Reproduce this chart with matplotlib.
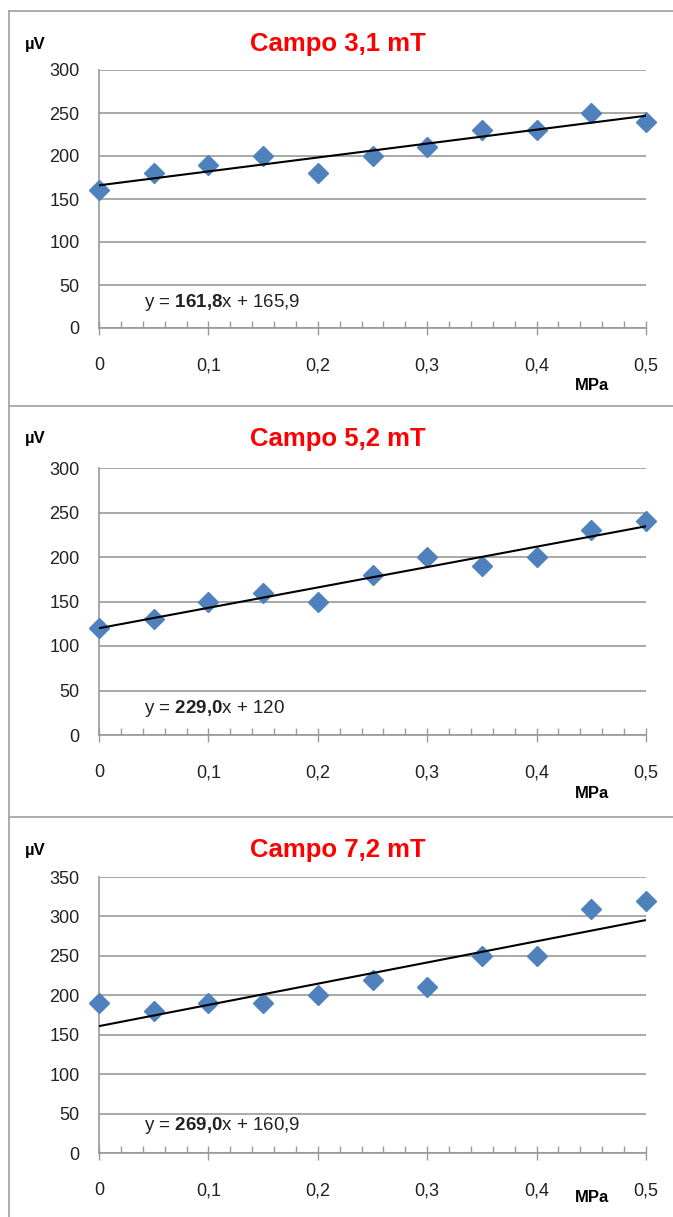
import numpy as np
import matplotlib.pyplot as plt
from matplotlib.ticker import MultipleLocator, FuncFormatter
from matplotlib.lines import Line2D

plt.rcParams['font.family'] = ['Liberation Sans', 'DejaVu Sans']
plt.rcParams['mathtext.fontset'] = 'custom'
plt.rcParams['mathtext.rm'] = 'Liberation Sans'
plt.rcParams['mathtext.bf'] = 'Liberation Sans:bold'

# dati
pressione = [0, 0.05, 0.1, 0.15, 0.2, 0.25, 0.3, 0.35, 0.4, 0.45, 0.5]
v_31 = [160, 180, 190, 200, 180, 200, 210, 230, 230, 250, 240]
v_52 = [120, 130, 150, 160, 150, 180, 200, 190, 200, 230, 240]
v_72 = [190, 180, 190, 190, 200, 220, 210, 250, 250, 310, 320]
titoli = ["Campo 3,1 mT", "Campo 5,2 mT", "Campo 7,2 mT"]
pendenze = [161.8, 229.0, 269.0]
intercette = [165.9, 120.0, 160.9]
eq_pend = ["161,8", "229,0", "269,0"]
eq_int = ["165,9", "120", "160,9"]
ymax = [300, 300, 350]

W, H = 673, 1217
fig = plt.figure(figsize=(W/100, H/100), dpi=100)

# posizioni in pixel: (top, bottom) dell'area dati
aree = [(70, 328), (468, 735), (877, 1153)]
bordi = [11, 406, 817]
mpa_y = [385, 793, 1197]

grigio = '#999999'

# bordi dei pannelli
for i, b in enumerate(bordi):
    fig.add_artist(Line2D([9/W, 1], [1-b/H, 1-b/H], color='#a6a6a6', lw=1.3))
fig.add_artist(Line2D([9/W, 9/W], [0, 1-11/H], color='#a6a6a6', lw=1.3))

serie = [v_31, v_52, v_72]
for i in range(3):
    top, bot = aree[i]
    ax = fig.add_axes([99/W, 1-bot/H, (646-99)/W, (bot-top)/H])
    x = np.array(pressione)
    ax.plot(x, serie[i], ls='none', marker='D', ms=10, color='#4F81BD', zorder=3, clip_on=False)
    xl = np.array([0, 0.5])
    ax.plot(xl, pendenze[i]*xl + intercette[i], color='black', lw=1.5, zorder=4)
    ax.set_xlim(0, 0.5)
    ax.set_ylim(0, ymax[i])
    ax.yaxis.set_major_locator(MultipleLocator(50))
    ax.grid(axis='y', color=grigio, lw=1.2)
    ax.set_axisbelow(True)
    for s in ['top', 'right']:
        ax.spines[s].set_visible(False)
    for s in ['left', 'bottom']:
        ax.spines[s].set_color(grigio)
        ax.spines[s].set_linewidth(1.2)
    ax.xaxis.set_major_locator(MultipleLocator(0.1))
    ax.xaxis.set_minor_locator(MultipleLocator(0.02))
    ax.xaxis.set_major_formatter(FuncFormatter(lambda v, p: ('%g' % round(v, 2)).replace('.', ',')))
    ax.tick_params(axis='x', which='major', direction='inout', length=10, width=1, color=grigio,
                   pad=16, labelsize=13, labelcolor='#222222')
    ax.tick_params(axis='x', which='minor', direction='in', length=5, width=1, color=grigio)
    ax.tick_params(axis='y', length=0, pad=14, labelsize=13, labelcolor='#222222')

    # titolo e etichette
    fig.text(338/W, 1-(bordi[i]+33)/H, titoli[i], color='red', fontsize=18.5, fontweight='bold',
             ha='center', va='center')
    fig.text(25/W, 1-(bordi[i]+33)/H, "µV", fontsize=12, fontweight='bold', ha='left', va='center')
    fig.text(592/W, 1-mpa_y[i]/H, "MPa", fontsize=12, fontweight='bold', ha='center', va='center')
    ax.text(0.083, 0.10, r"y = $\mathbf{%s}$x + %s" % (eq_pend[i].replace(',', '{,}'), eq_int[i]),
            transform=ax.transAxes, fontsize=13.5, color='#222222', ha='left', va='center')

fig.savefig('out.png', dpi=100, facecolor='white')
